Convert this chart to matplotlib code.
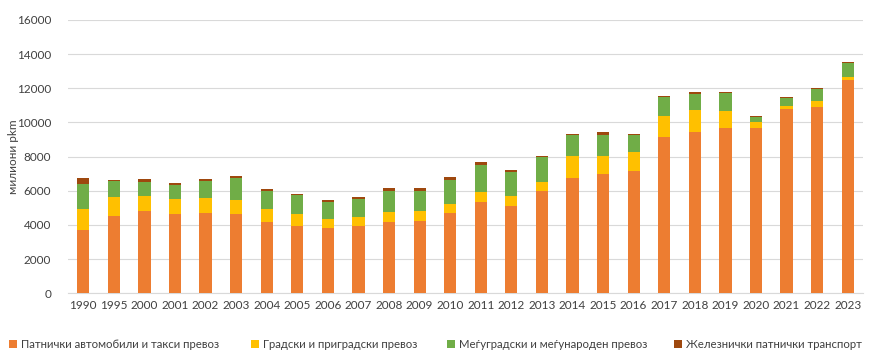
import matplotlib
matplotlib.use("Agg")
import matplotlib.pyplot as plt
import numpy as np

plt.rcParams['font.family'] = ['Lato', 'DejaVu Sans']

years = ['1990', '1995', '2000', '2001', '2002', '2003', '2004', '2005', '2006', '2007',
         '2008', '2009', '2010', '2011', '2012', '2013', '2014', '2015', '2016', '2017',
         '2018', '2019', '2020', '2021', '2022', '2023']

cars = [3700, 4540, 4820, 4660, 4700, 4620, 4190, 3940, 3800, 3940,
        4190, 4230, 4700, 5320, 5130, 5970, 6745, 7000, 7160, 9170,
        9440, 9700, 9700, 10810, 10930, 12490]
urban = [1210, 1070, 900, 840, 860, 820, 720, 680, 570, 530,
         570, 570, 530, 590, 565, 565, 1275, 1030, 1110, 1230,
         1290, 975, 330, 155, 330, 195]
intercity = [1480, 975, 800, 840, 1030, 1330, 1090, 1110, 1000, 1070,
             1250, 1210, 1420, 1620, 1420, 1420, 1235, 1250, 1010, 1110,
             955, 1035, 310, 470, 720, 820]
rail = [350, 60, 175, 135, 100, 115, 120, 80, 100, 80,
        135, 135, 155, 135, 80, 80, 80, 155, 60, 60,
        80, 80, 40, 40, 40, 40]

labels = ['Патнички автомобили и такси превоз', 'Градски и приградски превоз',
          'Меѓуградски и меѓународен превоз', 'Железнички патнички транспорт']
colors = ['#ED7D31', '#FFC000', '#70AD47', '#9E480E']

W, H = 869, 355
fig = plt.figure(figsize=(W / 100, H / 100), dpi=100)
ax = fig.add_axes([68 / W, 61.7 / H, 795 / W, 273.3 / H])

x = np.arange(len(years))
bottom = np.zeros(len(years))
handles = []
for vals, lab, col in zip([cars, urban, intercity, rail], labels, colors):
    b = ax.bar(x, vals, width=0.4, bottom=bottom, color=col, label=lab, zorder=3)
    handles.append(b)
    bottom += np.array(vals)

ax.set_ylim(0, 16000)
ax.set_yticks(np.arange(0, 16001, 2000))
ax.set_xlim(-0.5, len(years) - 0.5)
ax.set_xticks(x)
ax.set_xticklabels(years)
ax.grid(axis='y', color='#D9D9D9', linewidth=0.8, zorder=0)
for s in ['top', 'right', 'left']:
    ax.spines[s].set_visible(False)
ax.spines['bottom'].set_color('#D9D9D9')
ax.tick_params(axis='both', length=0, labelsize=8.5, colors='#404040')
ax.tick_params(axis='x', pad=5)
ax.tick_params(axis='y', pad=12)
ax.set_ylabel('милиони pkm', fontsize=8.5, color='#404040')
ax.yaxis.set_label_coords(-49 / 795, 0.5)

marker_x = [9, 251, 447, 674]
for h, lab, mx in zip(handles, labels, marker_x):
    fig.legend([h], [lab], loc='center left', bbox_to_anchor=(mx / W, 1 - 344 / H),
               frameon=False, fontsize=8.2, handlelength=0.7, handleheight=0.7,
               handletextpad=0.35, borderpad=0, borderaxespad=0, labelcolor='#404040')

fig.savefig('out.png', dpi=100)
